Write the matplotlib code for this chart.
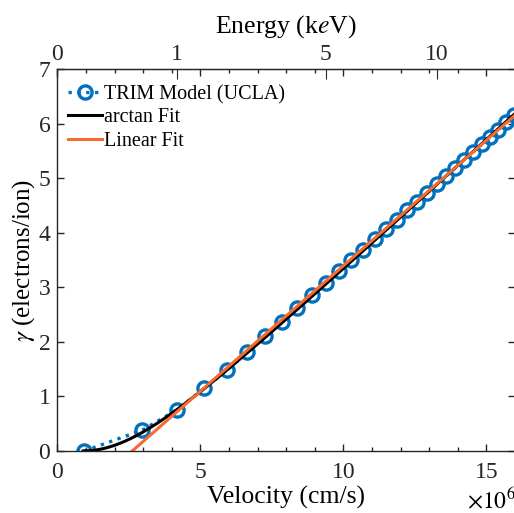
import numpy as np
import matplotlib.pyplot as plt

plt.rcParams['font.family'] = 'Liberation Serif'
plt.rcParams['mathtext.fontset'] = 'stix'

# TRIM model points: beam energy (keV) and electron yield (electrons/ion)
energy_kev = [0.05, 0.5, 1.0, 1.5, 2.0, 2.5, 3.0, 3.5, 4.0, 4.5, 5.0, 5.5, 6.0, 6.5,
              7.0, 7.5, 8.0, 8.5, 9.0, 9.5, 10.0, 10.5, 11.0, 11.5, 12.0, 12.5,
              13.0, 13.5, 14.0, 14.5, 15.0]
gamma_trim = [0.0, 0.38, 0.76, 1.15, 1.48, 1.81, 2.10, 2.37, 2.62, 2.86, 3.08,
              3.29, 3.50, 3.69, 3.88, 4.06, 4.24, 4.41, 4.57, 4.73, 4.89, 5.04,
              5.19, 5.34, 5.48, 5.62, 5.76, 5.89, 6.02, 6.15, 6.28]

energy_ticks = [0, 1, 5, 10]

# velocity (1e6 cm/s) per sqrt(keV)
v_per_sqrt_kev = 4.196

# fit parameters
arctan_a, arctan_b, arctan_v0 = 0.4778, 0.29, 0.9
lin_slope, lin_v0 = 0.46, 2.62

blue = '#0072BD'
orange = '#FA6A2E'
dark = '#262626'

velocity = v_per_sqrt_kev * np.sqrt(energy_kev)

fig = plt.figure(figsize=(5.14, 5.13), dpi=100)
ax = fig.add_axes([0.1115, 0.1209, 0.8905, 0.7446])

ax.plot(velocity, gamma_trim, ':', color=blue, lw=2.4, marker='o', ms=9.5,
        mfc='none', mew=2.4, label='TRIM Model (UCLA)')

v_fit = np.linspace(arctan_v0, 16.5, 300)
u = v_fit - arctan_v0
g_arctan = arctan_a * u * (2 / np.pi) * np.arctan(arctan_b * u)
ax.plot(v_fit, g_arctan, '-', color='black', lw=2.2, label='arctan Fit')

v_lin = np.linspace(0, 16.5, 10)
ax.plot(v_lin, lin_slope * (v_lin - lin_v0), '-', color=orange, lw=2.2,
        label='Linear Fit')

ax.set_xlim(0, 16)
ax.set_ylim(0, 7)
ax.set_xticks([0, 5, 10, 15])
ax.set_xticks(np.arange(0, 17, 1), minor=True)
ax.set_yticks(range(0, 8))
ax.tick_params(which='both', direction='in', top=True, right=True,
               labelsize=17, width=1, colors=dark, pad=5)
ax.tick_params(axis='x', which='both', pad=8)
ax.tick_params(which='major', length=5)
ax.tick_params(which='minor', length=3)
for s in ax.spines.values():
    s.set_color(dark)
    s.set_linewidth(1)

ax.set_xlabel('Velocity (cm/s)', fontsize=18.5, labelpad=2)
ax.set_ylabel(r'$\gamma$ (electrons/ion)', fontsize=18, labelpad=1)

sec = ax.secondary_xaxis('top',
                         functions=(lambda v: (np.asarray(v) / v_per_sqrt_kev) ** 2,
                                    lambda e: v_per_sqrt_kev * np.sqrt(np.clip(e, 0, None))))
sec.set_xticks(energy_ticks)
sec.set_xticklabels([str(e) for e in energy_ticks])
sec.tick_params(direction='in', length=7, labelsize=17, colors=dark, pad=3)
sec.set_xlabel(r'Energy (k$e$V)', fontsize=18.5, labelpad=8)

fig.text(0.908, 0.0, r'$\times10^6$', fontsize=17, ha='left', va='bottom')

ax.legend(loc='upper left', frameon=False, fontsize=14.5, handlelength=1.7,
          handletextpad=0.1, labelspacing=0.2, borderaxespad=0.4,
          bbox_to_anchor=(-0.012, 1.0))

fig.savefig('out.png', dpi=100)
